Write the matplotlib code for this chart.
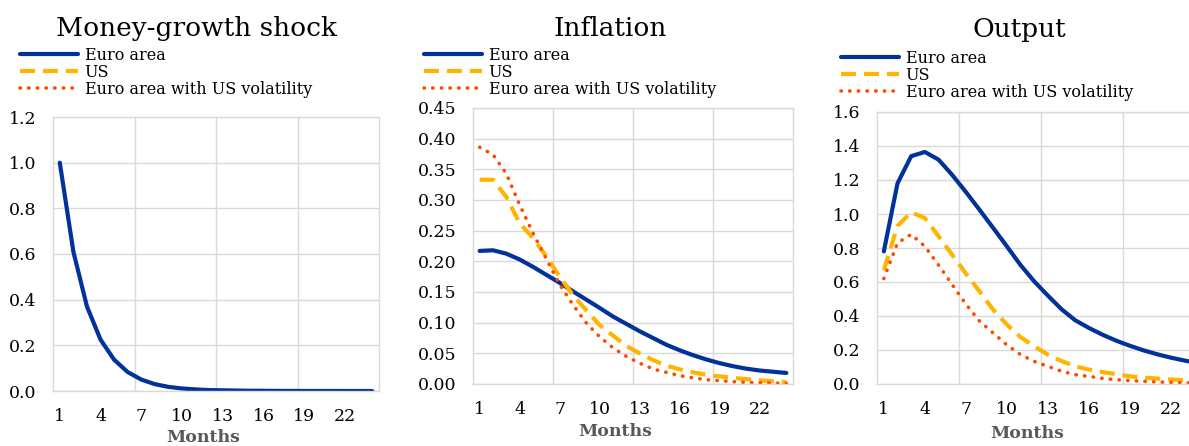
import numpy as np
import matplotlib
matplotlib.use("Agg")
import matplotlib.pyplot as plt

plt.rcParams['font.family'] = ['DejaVu Serif']

# months after the shock (categories)
months = np.arange(1, 25)
tick_months = [1, 4, 7, 10, 13, 16, 19, 22]

series_names = ['Euro area', 'US', 'Euro area with US volatility']

# Money-growth shock (only euro area shown)
money_ea = [1.0, 0.61, 0.37, 0.225, 0.137, 0.083, 0.05, 0.03, 0.018, 0.011,
            0.007, 0.004, 0.003, 0.002, 0.001, 0.001, 0.0005, 0.0003, 0.0002, 0.0001,
            0.0001, 0.0, 0.0, 0.0]

# Inflation
infl_ea = [0.217, 0.218, 0.2125, 0.203, 0.191, 0.178, 0.165, 0.151, 0.1375, 0.124,
           0.110, 0.098, 0.086, 0.075, 0.064, 0.055, 0.047, 0.040, 0.034, 0.029,
           0.025, 0.022, 0.020, 0.018]
infl_us = [0.333, 0.333, 0.305, 0.262, 0.238, 0.208, 0.175, 0.145, 0.120, 0.096,
           0.079, 0.062, 0.050, 0.039, 0.030, 0.024, 0.019, 0.015, 0.0125, 0.010,
           0.008, 0.006, 0.0045, 0.003]
infl_ea_usvol = [0.386, 0.374, 0.343, 0.292, 0.246, 0.204, 0.162, 0.129, 0.0995, 0.077,
                 0.059, 0.045, 0.034, 0.0245, 0.019, 0.0136, 0.010, 0.007, 0.0054, 0.0038,
                 0.0027, 0.002, 0.0016, 0.001]

# Output
out_ea = [0.78, 1.18, 1.34, 1.365, 1.32, 1.23, 1.13, 1.025, 0.918, 0.81,
          0.70, 0.604, 0.52, 0.44, 0.375, 0.33, 0.29, 0.255, 0.225, 0.198,
          0.175, 0.155, 0.138, 0.122]
out_us = [0.67, 0.93, 1.01, 0.976, 0.87, 0.76, 0.65, 0.545, 0.437, 0.35,
          0.276, 0.222, 0.173, 0.135, 0.104, 0.085, 0.07, 0.058, 0.045, 0.038,
          0.032, 0.027, 0.022, 0.018]
out_ea_usvol = [0.62, 0.83, 0.88, 0.81, 0.70, 0.585, 0.47, 0.37, 0.30, 0.23,
                0.173, 0.133, 0.104, 0.075, 0.055, 0.045, 0.033, 0.025, 0.02, 0.016,
                0.012, 0.009, 0.007, 0.005]

colors = ['#003299', '#FFB400', '#FF4B00']
styles = [dict(linestyle='-', linewidth=3.0, solid_capstyle='round'),
          dict(linestyle=(0, (3.6, 1.9)), linewidth=3.0, dash_capstyle='butt'),
          dict(linestyle=(0, (0.1, 2.3)), linewidth=2.6, dash_capstyle='round')]

grid_col = '#D9D9D9'

fig = plt.figure(figsize=(11.89, 4.46), dpi=100)


def setup_axes(ax, ylim, ystep, yfmt):
    ax.set_xlim(0.5, 24.5)
    ax.set_ylim(*ylim)
    ax.set_yticks(np.arange(ylim[0], ylim[1] + ystep / 2, ystep))
    ax.yaxis.set_major_formatter(matplotlib.ticker.FormatStrFormatter(yfmt))
    ax.set_xticks(tick_months)
    ax.set_xticks([6.5, 12.5, 18.5], minor=True)
    ax.grid(axis='y', which='major', color=grid_col, linewidth=1.0)
    ax.grid(axis='x', which='minor', color=grid_col, linewidth=1.0)
    ax.tick_params(axis='both', which='both', length=0, labelsize=12.5)
    ax.tick_params(axis='y', pad=12)
    ax.tick_params(axis='x', pad=12)
    for s in ax.spines.values():
        s.set_color(grid_col)
        s.set_linewidth(1.0)
    ax.set_axisbelow(True)


def add_legend(ax, x_px, y_px):
    ax.legend(loc='upper left', bbox_to_anchor=(x_px / 1189, 1 - y_px / 446),
              bbox_transform=fig.transFigure, frameon=False, fontsize=11.5,
              handlelength=3.6, handletextpad=0.45, labelspacing=0.0,
              borderpad=0, borderaxespad=0)


# Panel 1
ax1 = fig.add_axes([53 / 1189, 1 - 391 / 446, 326 / 1189, 274 / 446])
setup_axes(ax1, (0, 1.2), 0.2, '%.1f')
ax1.plot(months, money_ea, color=colors[0], label=series_names[0], **styles[0])
ax1.plot([], [], color=colors[1], label=series_names[1], **styles[1])
ax1.plot([], [], color=colors[2], label=series_names[2], **styles[2])
add_legend(ax1, 20, 47)
fig.text(197 / 1189, 1 - 36 / 446, 'Money-growth shock', ha='center', va='baseline', fontsize=19)
fig.text(203 / 1189, 1 - 437 / 446, 'Months', ha='center', va='center',
         fontsize=12.5, fontweight='bold', color='#595959')

# Panel 2
ax2 = fig.add_axes([473 / 1189, 1 - 384 / 446, 320 / 1189, 276 / 446])
setup_axes(ax2, (0, 0.45), 0.05, '%.2f')
for vals, name, c, st in zip([infl_ea, infl_us, infl_ea_usvol], series_names, colors, styles):
    ax2.plot(months, vals, color=c, label=name, **st)
add_legend(ax2, 424, 47)
fig.text(610 / 1189, 1 - 36 / 446, 'Inflation', ha='center', va='baseline', fontsize=19)
fig.text(615 / 1189, 1 - 432 / 446, 'Months', ha='center', va='center',
         fontsize=12.5, fontweight='bold', color='#595959')

# Panel 3
ax3 = fig.add_axes([877 / 1189, 1 - 384 / 446, 328 / 1189, 272 / 446])
setup_axes(ax3, (0, 1.6), 0.2, '%.1f')
for vals, name, c, st in zip([out_ea, out_us, out_ea_usvol], series_names, colors, styles):
    ax3.plot(months, vals, color=c, label=name, **st)
add_legend(ax3, 841, 50)
fig.text(1019 / 1189, 1 - 37 / 446, 'Output', ha='center', va='baseline', fontsize=19)
fig.text(1027 / 1189, 1 - 434 / 446, 'Months', ha='center', va='center',
         fontsize=12.5, fontweight='bold', color='#595959')

fig.savefig('out.png', dpi=100)
